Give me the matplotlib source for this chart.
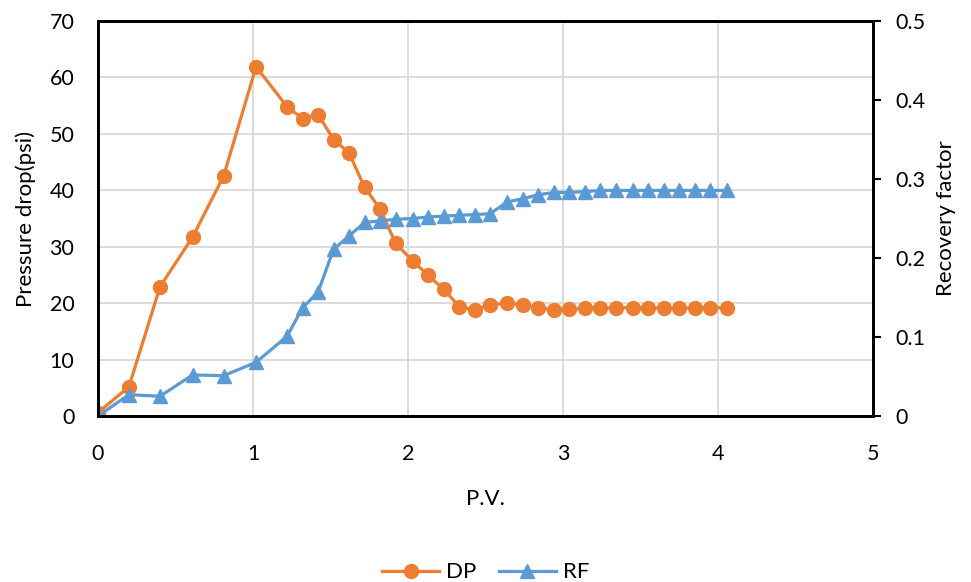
import matplotlib
matplotlib.use("Agg")
import matplotlib.pyplot as plt

plt.rcParams['font.family'] = ['Lato', 'DejaVu Sans']

pv = [0.00, 0.20, 0.40, 0.61, 0.81, 1.02, 1.22, 1.32, 1.42, 1.52, 1.62, 1.72,
      1.82, 1.92, 2.03, 2.13, 2.23, 2.33, 2.43, 2.53, 2.64, 2.74, 2.84, 2.94,
      3.04, 3.14, 3.24, 3.34, 3.45, 3.55, 3.65, 3.75, 3.85, 3.95, 4.06]
dp = [0.6, 5.2, 22.9, 31.7, 42.5, 61.9, 54.8, 52.7, 53.4, 49.0, 46.6, 40.5,
      36.7, 30.6, 27.5, 24.9, 22.5, 19.4, 18.8, 19.7, 20.0, 19.7, 19.2, 18.8,
      18.9, 19.1, 19.2, 19.2, 19.2, 19.2, 19.2, 19.2, 19.2, 19.2, 19.2]
rf = [0.000, 0.027, 0.025, 0.052, 0.051, 0.068, 0.101, 0.137, 0.157, 0.211,
      0.228, 0.245, 0.247, 0.249, 0.250, 0.252, 0.253, 0.254, 0.255, 0.256,
      0.271, 0.275, 0.280, 0.283, 0.283, 0.284, 0.2855, 0.2855, 0.2855, 0.2855,
      0.2855, 0.2855, 0.2855, 0.2855, 0.2855]

orange = '#ED7D31'
blue = '#5B9BD5'

fig = plt.figure(figsize=(9.71, 5.82), dpi=100)
ax = fig.add_axes([98/971, 1-416/582, (873-98)/971, (416-21)/582])
ax2 = ax.twinx()

ax.plot(pv, dp, color=orange, lw=2.3, marker='o', ms=10, label='DP', zorder=3)
ax2.plot(pv, rf, color=blue, lw=2.3, marker='^', ms=10, label='RF', zorder=3)

ax.set_xlim(0, 5)
ax.set_ylim(0, 70)
ax2.set_ylim(0, 0.5)
ax.set_xticks(range(0, 6))
ax.set_yticks(range(0, 71, 10))
ax2.set_yticks([0, 0.1, 0.2, 0.3, 0.4, 0.5])
ax2.set_yticklabels(['0', '0.1', '0.2', '0.3', '0.4', '0.5'])

ax.grid(True, color='#D9D9D9', lw=1.3)
ax.set_axisbelow(True)
for a in (ax, ax2):
    for s in a.spines.values():
        s.set_color('black')
        s.set_linewidth(2)
        s.set_zorder(5)

fs = 15.5
ax.tick_params(axis='both', length=0, labelsize=fs, colors='black')
ax.tick_params(axis='y', pad=17)
ax.tick_params(axis='x', pad=20)
ax2.tick_params(axis='y', length=6, width=1.5, direction='out', labelsize=fs, pad=10)

ax.set_xlabel('P.V.', fontsize=16, labelpad=18)
ax.set_ylabel('Pressure drop(psi)', fontsize=16, labelpad=10)
ax2.set_ylabel('Recovery factor', fontsize=16, labelpad=8)

h1, l1 = ax.get_legend_handles_labels()
h2, l2 = ax2.get_legend_handles_labels()
fig.legend(h1 + h2, l1 + l2, loc='lower center', bbox_to_anchor=(0.5, -0.035),
           ncol=2, frameon=False, fontsize=16, handlelength=2.6, columnspacing=1.0,
           handletextpad=0.3)

fig.savefig('out.png', dpi=100)
